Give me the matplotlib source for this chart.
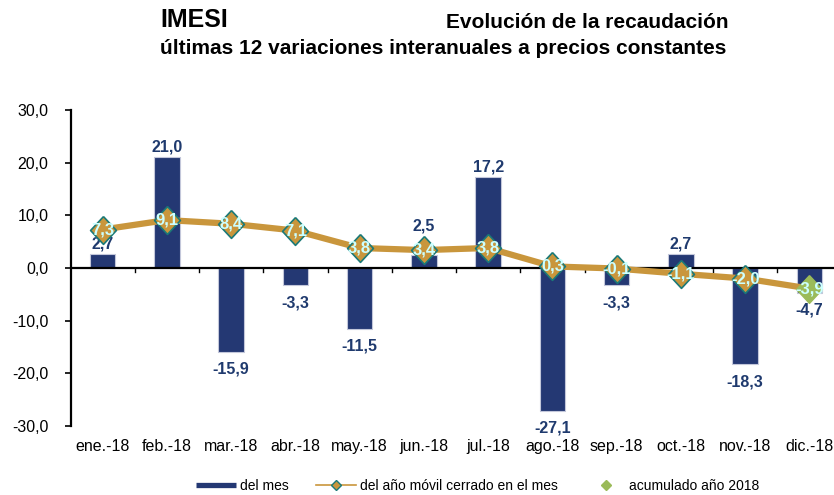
import matplotlib
matplotlib.use("Agg")
import matplotlib.pyplot as plt
from matplotlib.lines import Line2D
import numpy as np

plt.rcParams["font.family"] = ["Liberation Sans", "DejaVu Sans"]

# datos
meses = ["ene.-18", "feb.-18", "mar.-18", "abr.-18", "may.-18", "jun.-18",
         "jul.-18", "ago.-18", "sep.-18", "oct.-18", "nov.-18", "dic.-18"]
del_mes = [2.7, 21.0, -15.9, -3.3, -11.5, 2.5, 17.2, -27.1, -3.3, 2.7, -18.3, -4.7]
anio_movil = [7.3, 9.1, 8.4, 7.1, 3.8, 3.4, 3.8, 0.3, -0.1, -1.1, -2.0, -3.9]
acum_mes = "dic.-18"
acum_valor = -3.9

NAVY = "#243873"
GOLD = "#C9963C"
TEAL = "#1B7A78"
GREEN = "#9BBB59"
LBL = "#1F3A6E"
CYAN = "#CCFFFF"


def fmt(v):
    return f"{v:.1f}".replace(".", ",")


fig = plt.figure(figsize=(8.34, 4.95), dpi=100)
ax = fig.add_axes([70.5 / 834, 69 / 495, 771 / 834, 316 / 495])

x = np.arange(len(meses))
ax.bar(x, del_mes, width=0.4, color=NAVY, edgecolor="#C3C7DA", linewidth=0.8, zorder=2)
for xi, v, m in zip(x, del_mes, anio_movil):
    if v >= 0:
        # si el rombo tapa la etiqueta, se sube por encima del rombo
        dy = 12 if abs(m - v) < 2 else 2
        y0 = max(v, m) if abs(m - v) < 2 else v
        ax.annotate(fmt(v), (xi, y0), xytext=(0, dy), textcoords="offset points",
                    ha="center", va="bottom", fontsize=11.5, fontweight="bold", color=LBL, zorder=3)
    else:
        ax.annotate(fmt(v), (xi, v), xytext=(0, -7), textcoords="offset points",
                    ha="center", va="top", fontsize=11.5, fontweight="bold", color=LBL, zorder=3)

ax.axhline(0, color="black", lw=1.6, zorder=3)

diamond = [(0, 1), (0.93, 0), (0, -1), (-0.93, 0), (0, 1)]
idx_acum = meses.index(acum_mes)
ax.plot(x, anio_movil, color=GOLD, lw=4.5, zorder=4, solid_capstyle="round")
ax.plot(x[:idx_acum], anio_movil[:idx_acum], ls="none", marker=diamond, ms=20,
        mfc=GOLD, mec=TEAL, mew=1.2, zorder=5)
ax.plot([x[idx_acum]], [acum_valor], ls="none", marker=diamond, ms=20,
        mfc=GREEN, mec=GREEN, mew=1.0, zorder=5)
for xi, v in zip(x, anio_movil):
    ax.text(xi, v, fmt(v), ha="center", va="center", fontsize=12, fontweight="bold",
            color=CYAN, zorder=6)

ax.set_xlim(-0.5, len(meses) - 0.5)
ax.set_ylim(-30, 30)
ax.set_yticks(np.arange(-30, 31, 10))
ax.set_yticklabels([fmt(v) for v in np.arange(-30, 31, 10)], fontsize=11.5)
ax.tick_params(axis="y", direction="out", length=4, width=1.2, pad=12)

for s in ("top", "right", "bottom"):
    ax.spines[s].set_visible(False)
ax.spines["left"].set_linewidth(1.6)

# marcas del eje x sobre la línea del cero
ax.set_xticks([])
for b in np.arange(0.5, len(meses) - 0.5, 1.0):
    ax.plot([b, b], [0, -0.8], color="black", lw=1.0, zorder=3)
for xi, m in zip(x, meses):
    ax.text(xi, -33.9, m, ha="center", va="center", fontsize=11.5, color="black")

fig.text(160 / 834, 1 - 20 / 495, "IMESI", ha="left", va="center", fontsize=18, fontweight="bold")
fig.text(728 / 834, 1 - 22 / 495, "Evolución de la recaudación", ha="right", va="center",
         fontsize=15, fontweight="bold")
fig.text(160 / 834, 1 - 48 / 495, "últimas 12 variaciones interanuales a precios constantes",
         ha="left", va="center", fontsize=15, fontweight="bold")

handles = [
    Line2D([], [], color=NAVY, lw=3.8, solid_capstyle="butt"),
    Line2D([], [], color=GOLD, lw=1.2, marker="D", ms=5, mfc=GOLD, mec=TEAL, mew=1.0),
    Line2D([], [], ls="none", marker="D", ms=5, mfc=GREEN, mec=GREEN),
]
fig.legend(handles, ["del mes", "del año móvil cerrado en el mes", "acumulado año 2018"],
           loc="center", bbox_to_anchor=(0.573, 0.018), ncol=3, frameon=False, fontsize=10,
           handlelength=2.85, handletextpad=0.3, columnspacing=2.0)

fig.savefig("out.png", dpi=100)
